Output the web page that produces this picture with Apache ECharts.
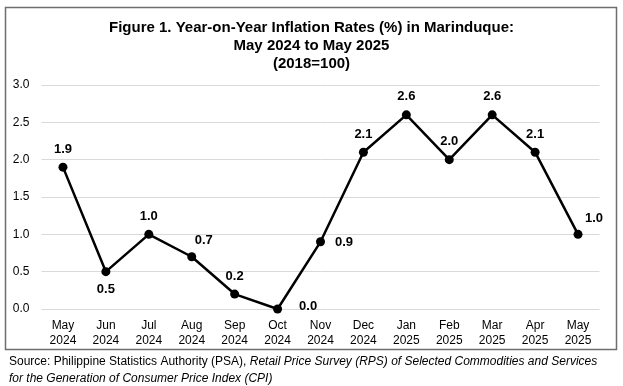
<!DOCTYPE html>
<html><head><meta charset="utf-8">
<script src="https://cdn.jsdelivr.net/npm/echarts@6/dist/echarts.min.js"></script>
<style>html,body{margin:0;padding:0;background:#fff;}#c{width:623px;height:386px;}</style>
</head><body><div id="c"></div>
<script>
const months = ['May\n2024','Jun\n2024','Jul\n2024','Aug\n2024','Sep\n2024','Oct\n2024','Nov\n2024','Dec\n2024','Jan\n2025','Feb\n2025','Mar\n2025','Apr\n2025','May\n2025'];
const inflation = [1.9, 0.5, 1.0, 0.7, 0.2, 0.0, 0.9, 2.1, 2.6, 2.0, 2.6, 2.1, 1.0];
const labelPlacement = ['top','bottom','top','top','top','right','right','top','top','top','top','top','top'];

const labelShift = [[0,0],[0,0],[0,0],[12,2],[0,0],[10,-3],[3,1],[0,0],[0,0],[0,0],[0,0],[0,0],[16,2]];
const data = inflation.map((v,i)=>({value:v, label:{position:labelPlacement[i], offset:labelShift[i]}}));

const chart = echarts.init(document.getElementById('c'));
chart.setOption({
  animation:false,
  title:[{
    text:'Figure 1. Year-on-Year Inflation Rates (%) in Marinduque:\nMay 2024 to May 2025\n(2018=100)',
    left:'center', top:14,
    textStyle:{fontFamily:'Liberation Sans, Arial', fontSize:15, fontWeight:'bold', color:'#000', lineHeight:18}
  },{
    text:'{n|Source: Philippine Statistics Authority (PSA), }{i|Retail Price Survey (RPS) of Selected Commodities and Services}\n{i|for the Generation of Consumer Price Index (CPI)}',
    left:4, top:348,
    textStyle:{fontWeight:'normal', rich:{
      n:{fontFamily:'Liberation Sans, Arial', fontSize:12, fontWeight:'normal', color:'#000', lineHeight:17},
      i:{fontFamily:'Liberation Sans, Arial', fontSize:12, fontWeight:'normal', fontStyle:'italic', color:'#000', lineHeight:17}
    }}
  }],
  graphic:[{type:'rect', shape:{x:5.5,y:7.5,width:611,height:342}, style:{fill:'none', stroke:'#6e6e6e', lineWidth:1.5}, silent:true}],
  grid:{left:41.5, right:23.5, top:85, bottom:77},
  xAxis:{type:'category', data:months, boundaryGap:true,
    axisLine:{show:false}, axisTick:{show:false},
    axisLabel:{fontFamily:'Liberation Sans, Arial', fontSize:12, color:'#000', lineHeight:15, margin:9}
  },
  yAxis:{type:'value', min:0, max:3, interval:0.5,
    axisLine:{show:false}, axisTick:{show:false},
    axisLabel:{fontFamily:'Liberation Sans, Arial', fontSize:12, color:'#000', margin:12, formatter:v=>v.toFixed(1)},
    splitLine:{lineStyle:{color:'#d9d9d9', width:1}}
  },
  series:[{type:'line', data:data, symbol:'circle', symbolSize:9,
    lineStyle:{color:'#000', width:2.5}, itemStyle:{color:'#000'},
    label:{show:true, fontFamily:'Liberation Sans, Arial', fontSize:13, fontWeight:'bold', color:'#000', distance:7, formatter:p=>p.value.toFixed(1)}
  }]
});
</script></body></html>
